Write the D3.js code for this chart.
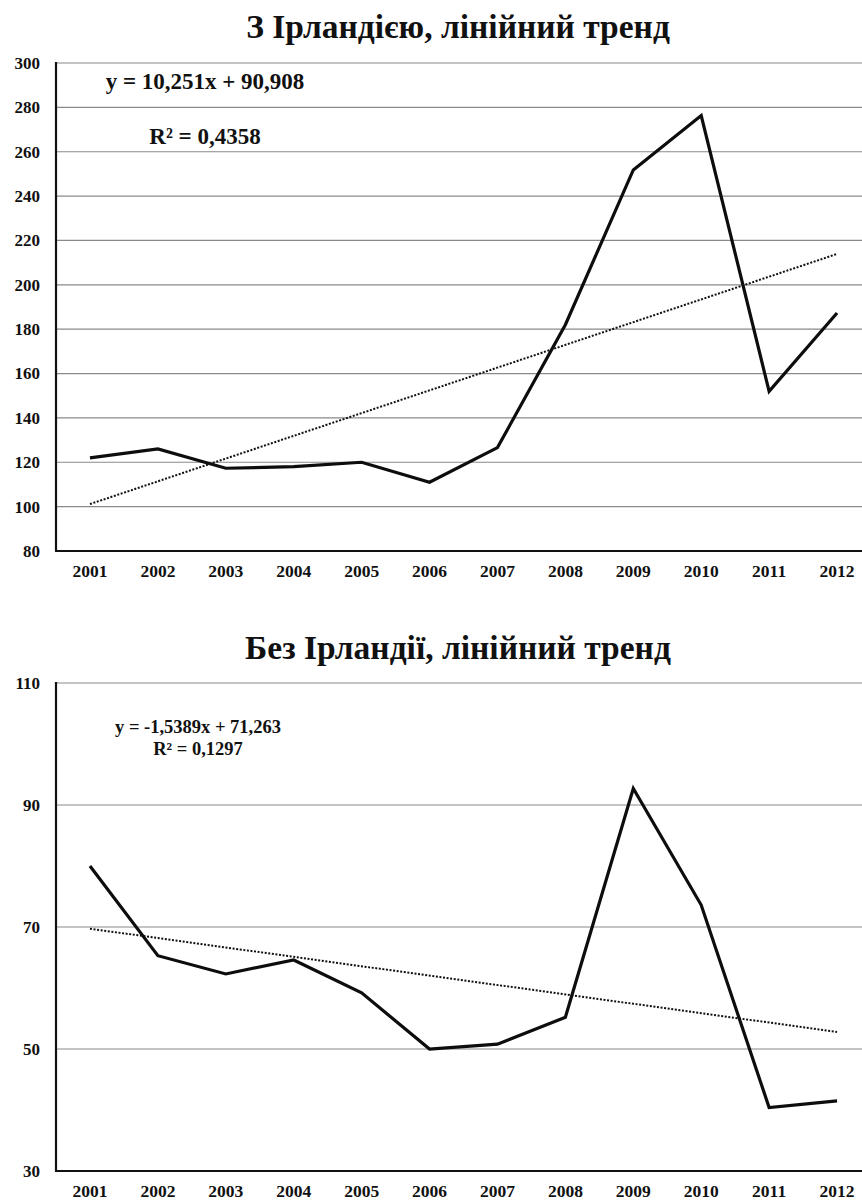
<!DOCTYPE html>
<html>
<head>
<meta charset="utf-8">
<script src="https://cdn.jsdelivr.net/npm/d3@7"></script>
<style>
  html, body { margin: 0; padding: 0; background: #fff; }
  svg text { font-family: "Liberation Serif", Tinos, "Times New Roman", Times, "DejaVu Serif", serif; font-weight: bold; fill: #111; }
</style>
</head>
<body>
<svg id="chart" width="862" height="1201"></svg>
<script>
// Years on the category axis
const years = ["2001","2002","2003","2004","2005","2006","2007","2008","2009","2010","2011","2012"];

// Index values including Ireland
const withIreland = [122, 126, 117.3, 118, 120, 111, 126.6, 182, 251.8, 276.3, 152, 187.3];
// Index values excluding Ireland
const withoutIreland = [80.0, 65.3, 62.3, 64.6, 59.2, 50.0, 50.8, 55.2, 92.7, 73.6, 40.4, 41.5];

// Linear trend coefficients (x = 1..12)
const trendWith = { slope: 10.251, intercept: 90.908, r2: "0,4358", eq: "y = 10,251x + 90,908" };
const trendWithout = { slope: -1.5389, intercept: 71.263, r2: "0,1297", eq: "y = -1,5389x + 71,263" };

// Y tick labels
const ticksTop = [80, 100, 120, 140, 160, 180, 200, 220, 240, 260, 280, 300];
const ticksBottom = [30, 50, 70, 90, 110];

const titles = ["З Ірландією, лінійний тренд", "Без Ірландії, лінійний тренд"];

const serif = '"Liberation Serif", Tinos, "Times New Roman", Times, "DejaVu Serif", serif';
const svg = d3.select("#chart");

function drawPanel(cfg) {
  const g = svg.append("g");
  const x = d3.scaleBand().domain(years).range([56, 871]).paddingInner(0).paddingOuter(0);
  const y = d3.scaleLinear().domain(cfg.domain).range([cfg.bottom, cfg.top]);
  const cx = d => x(d) + x.bandwidth() / 2;

  // title
  g.append("text")
    .attr("x", 458).attr("y", cfg.titleY)
    .attr("text-anchor", "middle")
    .style("font-size", "33.5px")
    .text(cfg.title);

  // horizontal gridlines
  g.append("g")
    .selectAll("line")
    .data(cfg.ticks.filter(t => t !== cfg.domain[0]))
    .join("line")
    .attr("x1", 56).attr("x2", 862)
    .attr("y1", d => y(d)).attr("y2", d => y(d))
    .attr("stroke", "#8a8a8a").attr("stroke-width", 1.2);

  // y axis labels
  const yAxis = d3.axisLeft(y).tickValues(cfg.ticks).tickSize(0).tickPadding(16).tickFormat(d3.format("d"));
  const ya = g.append("g").attr("transform", "translate(56,0)").call(yAxis);
  ya.attr("font-family", null);
  ya.select(".domain").remove();
  ya.selectAll("text").style("font-size", "17px").style("font-family", serif).attr("fill", "#111");

  // x axis labels
  const xAxis = d3.axisBottom(x).tickSize(0).tickPadding(14);
  const xa = g.append("g").attr("transform", `translate(0,${cfg.bottom})`).call(xAxis);
  xa.attr("font-family", null);
  xa.select(".domain").remove();
  xa.selectAll("text").style("font-size", "17.5px").style("font-family", serif).attr("fill", "#111");

  // axis lines
  g.append("line").attr("x1", 56).attr("x2", 56).attr("y1", cfg.top - 1).attr("y2", cfg.bottom)
    .attr("stroke", "#111").attr("stroke-width", 2.2);
  g.append("line").attr("x1", 55).attr("x2", 862).attr("y1", cfg.bottom).attr("y2", cfg.bottom)
    .attr("stroke", "#111").attr("stroke-width", 2.2);

  // linear trend (dotted)
  const trendPts = years.map((yr, i) => [cx(yr), y(cfg.trend.slope * (i + 1) + cfg.trend.intercept)]);
  g.append("path")
    .attr("d", d3.line()([trendPts[0], trendPts[trendPts.length - 1]]))
    .attr("fill", "none").attr("stroke", "#111").attr("stroke-width", 2)
    .attr("stroke-dasharray", "2,1.6");

  // data series
  const line = d3.line().x((d, i) => cx(years[i])).y(d => y(d));
  g.append("path")
    .datum(cfg.values)
    .attr("d", line)
    .attr("fill", "none").attr("stroke", "#0d0d0d").attr("stroke-width", 3.2)
    .attr("stroke-linejoin", "miter");

  // trend equation labels
  g.append("text").attr("x", cfg.eqX).attr("y", cfg.eqY).attr("text-anchor", "middle")
    .style("font-size", cfg.eqSize).text(cfg.trend.eq);
  g.append("text").attr("x", cfg.eqX).attr("y", cfg.r2Y).attr("text-anchor", "middle")
    .style("font-size", cfg.eqSize).text("R² = " + cfg.trend.r2);
}

drawPanel({
  title: titles[0], titleY: 38,
  values: withIreland, trend: trendWith,
  domain: [80, 300], top: 63, bottom: 551, ticks: ticksTop,
  eqX: 205, eqY: 89, r2Y: 144, eqSize: "23px"
});

drawPanel({
  title: titles[1], titleY: 659,
  values: withoutIreland, trend: trendWithout,
  domain: [30, 110], top: 683, bottom: 1171, ticks: ticksBottom,
  eqX: 198, eqY: 733, r2Y: 755, eqSize: "18.5px"
});
</script>
</body>
</html>
